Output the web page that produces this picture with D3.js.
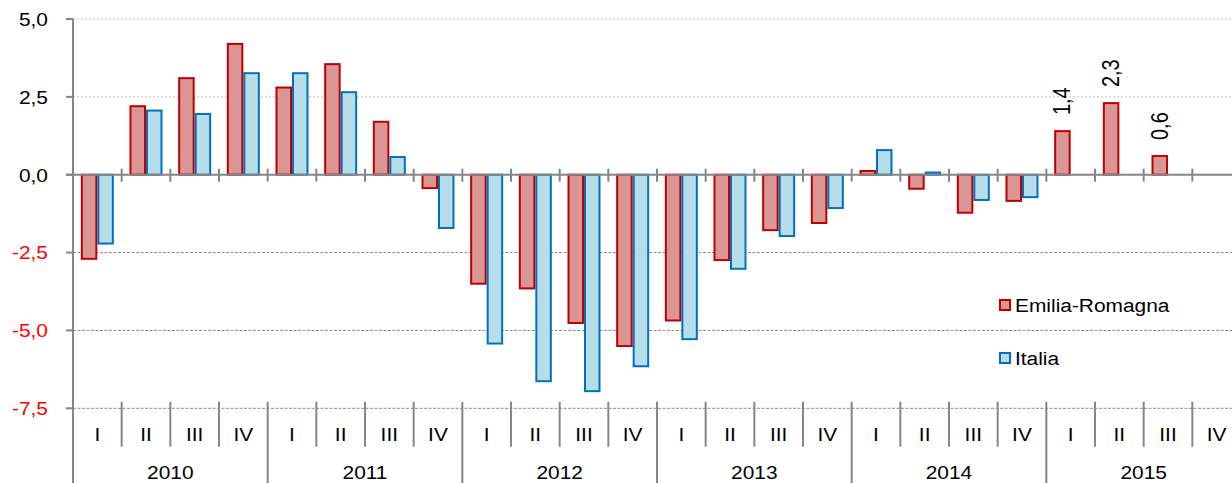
<!DOCTYPE html>
<html>
<head>
<meta charset="utf-8">
<script src="https://cdn.jsdelivr.net/npm/d3@7"></script>
<style>
  body { margin: 0; background: #fff; overflow: hidden; }
  text { font-family: "Liberation Sans", Arial, sans-serif; font-size: 19px; fill: #000; }
</style>
</head>
<body>
<div class="chart"></div>
<script>
const years = [2010, 2011, 2012, 2013, 2014, 2015]
const quarters = ["I", "II", "III", "IV"]
const seriesNames = ["Emilia-Romagna", "Italia"]

const emilia = [-2.7, 2.2, 3.1, 4.2, 2.8, 3.55, 1.7, -0.43, -3.5, -3.65, -4.76, -5.5,
  -4.68, -2.74, -1.78, -1.55, 0.12, -0.45, -1.22, -0.84, 1.4, 2.3, 0.6, null]
const italia = [-2.21, 2.06, 1.95, 3.26, 3.26, 2.65, 0.57, -1.71, -5.42, -6.63, -6.95, -6.15,
  -5.28, -3.02, -1.97, -1.07, 0.79, 0.07, -0.81, -0.72, null, null, null, null]
const labelled = [20, 21, 22] // emilia bars with a value label

const yTicks = [5, 2.5, 0, -2.5, -5, -7.5]

const colors = {
  redFill: "#D99694",
  redStroke: "#C00000",
  blueFill: "#B7DEE8",
  blueStroke: "#0070C0",
  axis: "#868686",
  gridLight: "#BDBDBD",
  gridDark: "#8C8C8C",
  negText: "#FF0000"
}

const width = 1232
const height = 483
const dims = { left: 73, right: 1241, top: 19, bottom: 408.3 }

const categories = []
years.forEach(y => quarters.forEach(q => categories.push(`${y}-${q}`)))

const data = categories.map((c, i) => ({
  key: c, i,
  values: [
    { s: seriesNames[0], v: emilia[i] },
    { s: seriesNames[1], v: italia[i] }
  ]
}))

const xScale = d3.scaleBand()
  .domain(categories)
  .range([dims.left, dims.right])
  .paddingInner(0)

const xInner = d3.scaleBand()
  .domain(seriesNames)
  .range([0, xScale.bandwidth()])
  .paddingOuter(0.475)

const yScale = d3.scaleLinear()
  .domain([-7.5, 5])
  .range([dims.bottom, dims.top])

const fmt = v => d3.format(".1f")(v).replace(".", ",").replace("−", "-")
const stretch = 1.1

const svg = d3.select(".chart")
  .append("svg")
    .attr("width", width)
    .attr("height", height)

// gridlines
svg.append("g")
  .selectAll("line")
  .data(yTicks.filter(d => d != 0))
  .join("line")
    .attr("x1", dims.left)
    .attr("x2", width)
    .attr("y1", d => yScale(d))
    .attr("y2", d => yScale(d))
    .attr("stroke", d => d > 0 ? colors.gridLight : colors.gridDark)
    .attr("stroke-width", 1)
    .attr("stroke-dasharray", d => d > 0 ? "2,2" : "3,1.5")

// bars
const fillOf = s => s == seriesNames[0] ? colors.redFill : colors.blueFill
const strokeOf = s => s == seriesNames[0] ? colors.redStroke : colors.blueStroke

const groups = svg.append("g")
  .selectAll("g")
  .data(data)
  .join("g")
    .attr("transform", d => `translate(${xScale(d.key)},0)`)

groups.selectAll("rect")
  .data(d => d.values.filter(e => e.v != null))
  .join("rect")
    .attr("x", d => xInner(d.s) + 1)
    .attr("width", xInner.bandwidth() - 2)
    .attr("y", d => yScale(Math.max(0, d.v)))
    .attr("height", d => Math.abs(yScale(d.v) - yScale(0)))
    .attr("fill", d => fillOf(d.s))
    .attr("stroke", d => strokeOf(d.s))
    .attr("stroke-width", 2)

// value labels, rotated
svg.append("g")
  .selectAll("text")
  .data(labelled)
  .join("text")
    .attr("transform", i => {
      const cx = xScale(categories[i]) + xInner(seriesNames[0]) + xInner.bandwidth() / 2
      return `translate(${cx},${yScale(emilia[i]) - 16}) rotate(-90) scale(1,1.15)`
    })
    .attr("dy", "0.35em")
    .style("font-size", "20px")
    .text(i => fmt(emilia[i]))

// zero line with ticks at category boundaries
svg.append("line")
  .attr("x1", dims.left - 7)
  .attr("x2", width)
  .attr("y1", yScale(0))
  .attr("y2", yScale(0))
  .attr("stroke", colors.axis)
  .attr("stroke-width", 2)

svg.append("g")
  .selectAll("line")
  .data(categories.slice(1))
  .join("line")
    .attr("x1", d => xScale(d))
    .attr("x2", d => xScale(d))
    .attr("y1", yScale(0) - 6)
    .attr("y2", yScale(0) + 7)
    .attr("stroke", colors.axis)
    .attr("stroke-width", 2)

// y axis
svg.append("line")
  .attr("x1", dims.left)
  .attr("x2", dims.left)
  .attr("y1", dims.top)
  .attr("y2", height)
  .attr("stroke", colors.axis)
  .attr("stroke-width", 2)

svg.append("g")
  .selectAll("line")
  .data(yTicks)
  .join("line")
    .attr("x1", dims.left - 7)
    .attr("x2", dims.left)
    .attr("y1", d => yScale(d))
    .attr("y2", d => yScale(d))
    .attr("stroke", colors.axis)
    .attr("stroke-width", 2)

svg.append("g")
  .selectAll("text")
  .data(yTicks)
  .join("text")
    .attr("transform", d => `translate(48,${yScale(d)}) scale(${stretch},1)`)
    .attr("text-anchor", "end")
    .attr("dy", "0.36em")
    .style("fill", d => d < 0 ? colors.negText : "#000")
    .text(fmt)

// category axis at bottom
const catTop = yScale(-7.5) - 6.5
svg.append("g")
  .selectAll("line")
  .data(d3.range(1, categories.length + 1))
  .join("line")
    .attr("x1", i => dims.left + i * xScale.step())
    .attr("x2", i => dims.left + i * xScale.step())
    .attr("y1", catTop)
    .attr("y2", i => i % 4 == 0 ? height : 446.7)
    .attr("stroke", colors.axis)
    .attr("stroke-width", 2)

svg.append("g")
  .selectAll("text")
  .data(categories)
  .join("text")
    .attr("transform", d => `translate(${xScale(d) + xScale.bandwidth() / 2},441) scale(${stretch},1)`)
    .attr("text-anchor", "middle")
    .text(d => d.split("-")[1])

svg.append("g")
  .selectAll("text")
  .data(years)
  .join("text")
    .attr("transform", y => {
      const x = xScale(`${y}-I`) + xScale.step() * 2
      return `translate(${x},478.5) scale(${stretch},1)`
    })
    .attr("text-anchor", "middle")
    .text(d => d)

// legend
const legend = svg.append("g")
  .selectAll("g")
  .data(seriesNames)
  .join("g")
    .attr("transform", (d, i) => `translate(1000,${300 + i * 53})`)

legend.append("rect")
  .attr("width", 10)
  .attr("height", 10)
  .attr("fill", fillOf)
  .attr("stroke", strokeOf)
  .attr("stroke-width", 2)

legend.append("text")
  .attr("transform", `translate(15,5) scale(${stretch},1)`)
  .attr("dy", "0.36em")
  .text(d => d)
</script>
</body>
</html>
